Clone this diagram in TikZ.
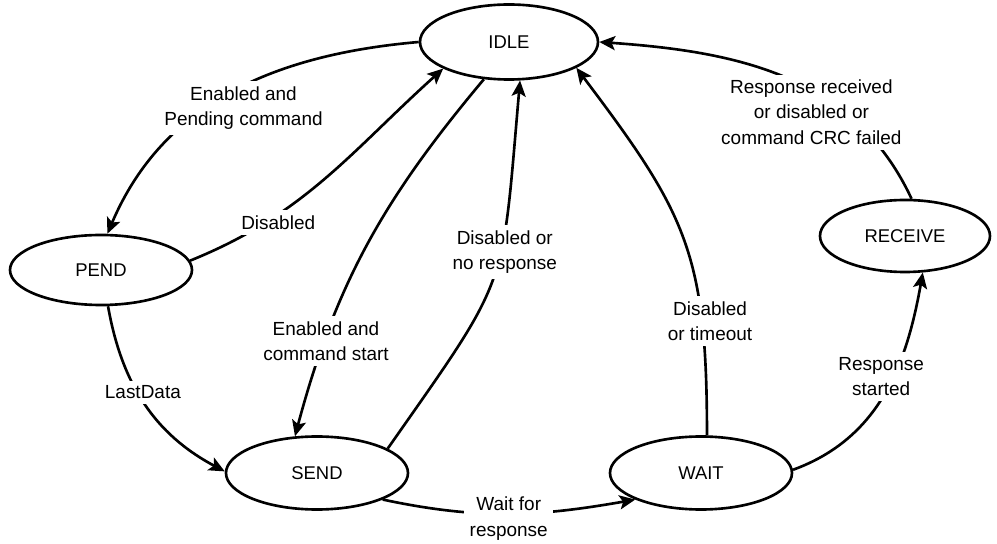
\documentclass[tikz,border=0pt]{standalone}
\usepackage{fontspec}
\setmainfont{Liberation Sans}
\usetikzlibrary{shapes.geometric,arrows.meta}

\begin{document}
\begin{tikzpicture}[
    state style/.style={ellipse, draw, line width=1.5pt, inner sep=0pt,
        font=\fontsize{10.5}{12}\selectfont},
    edge style/.style={line width=1.5pt, -{Stealth[length=9pt, width=8pt, inset=2pt]}},
    label style/.style={fill=white, align=center, inner sep=3pt,
        font=\fontsize{10.8}{14.4}\selectfont}
]

% SAME BOUNDING BOX
\path[use as bounding box] (0,0) rectangle (19.94,10.88);

% states
\node[state style, minimum width=3.56cm, minimum height=1.50cm] (IDLE) at (10.18, 10.04) {IDLE};
\node[state style, minimum width=3.64cm, minimum height=1.40cm] (PEND) at (2.02, 5.48) {PEND};
\node[state style, minimum width=3.64cm, minimum height=1.46cm] (SEND) at (6.34, 1.42) {SEND};
\node[state style, minimum width=3.64cm, minimum height=1.46cm] (WAIT) at (14.02, 1.42) {WAIT};
\node[state style, minimum width=3.40cm, minimum height=1.44cm] (RECEIVE) at (18.10, 6.16) {RECEIVE};

% transitions
\draw[edge style] (IDLE.180) to[out=185, in=67]
    node[label style, xshift=0.26cm, yshift=-0.3cm] {Enabled and\\Pending command} (PEND.80);
\draw[edge style] (PEND.6) to[out=22, in=222]
    node[label style, pos=0.3, yshift=-0.16cm] {Disabled} (IDLE.202);
\draw[edge style] (IDLE.236) to[out=230, in=75]
    node[label style, pos=0.76, yshift=-0.08cm] {Enabled and\\command start} (SEND.121);
\draw[edge style] (SEND.19) to[out=55, in=265, looseness=1.4]
    node[label style, pos=0.6, xshift=0.08cm] {Disabled or\\no response} (IDLE.286);
\draw[edge style] (PEND.281) to[out=-80, in=152]
    node[label style, pos=0.43, xshift=0.1cm] {LastData} (SEND.179);
\draw[edge style] (SEND.338) to[out=-12, in=190]
    node[label style, yshift=-0.1cm] {Wait for\\response} (WAIT.202);
\draw[edge style] (WAIT.81) to[out=90, in=307, looseness=1.2]
    node[label style, pos=0.25, xshift=0.16cm] {Disabled\\or timeout} (IDLE.339);
\draw[edge style] (WAIT.2) to[out=20, in=260]
    node[label style, pos=0.58, xshift=-0.24cm] {Response\\started} (RECEIVE.296);
\draw[edge style] (RECEIVE.80) to[out=115, in=356]
    node[label style, pos=0.3, xshift=-0.66cm] {Response received\\or disabled or\\command CRC failed} (IDLE.0);

\end{tikzpicture}
\end{document}
